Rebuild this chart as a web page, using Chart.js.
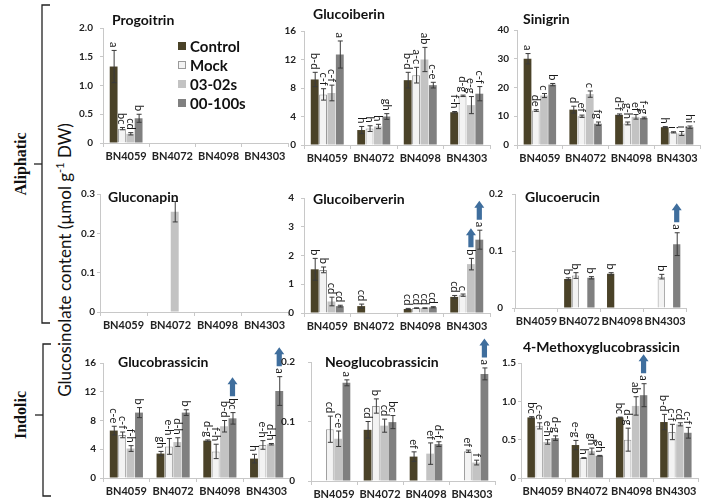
<!DOCTYPE html>
<html>
<head>
<meta charset="utf-8">
<script src="https://cdn.jsdelivr.net/npm/chart.js@4.4.1/dist/chart.umd.min.js"></script>
<style>
  html, body { margin:0; padding:0; background:#fff; }
  #wrap { position:relative; width:708px; height:502px; overflow:hidden; font-family:Lato, "Open Sans", sans-serif; }
  canvas { position:absolute; }
  .ttl { position:absolute; font:bold 14px Lato, sans-serif; color:#111; line-height:18px; white-space:nowrap; }
  .leg { position:absolute; font:bold 15px Lato, sans-serif; color:#111; line-height:18px; white-space:nowrap; }
  .legbox { position:absolute; width:8px; height:8px; box-sizing:border-box; }
  .side { position:absolute; font:bold 16px "Liberation Serif", "DejaVu Serif", serif; color:#111; white-space:nowrap; transform:translate(-50%,-50%) rotate(-90deg); }
  #ytitle { position:absolute; left:64px; top:260px; font:17px Lato, sans-serif; color:#111; white-space:nowrap; transform:translate(-50%,-50%) rotate(-90deg); }
  svg { position:absolute; left:0; top:0; }
</style>
</head>
<body>
<div id="wrap">
  <svg width="708" height="502">
    <g stroke="#222" stroke-width="1.3" fill="none">
      <polyline points="50,5 42,5 42,323 50,323"/>
      <line x1="42" y1="164" x2="34" y2="164"/>
      <polyline points="51,344 43,344 43,496 51,496"/>
      <line x1="43" y1="415" x2="35" y2="415"/>
    </g>
  </svg>
  <div class="side" style="left:21px;top:164px;">Aliphatic</div>
  <div class="side" style="left:21px;top:415px;">Indolic</div>
  <div id="ytitle">Glucosinolate content (µmol g<sup style="font-size:11px">-1</sup> DW)</div>
</div>
<script>
// ---------- data ----------
const categories = ['BN4059', 'BN4072', 'BN4098', 'BN4303'];
const treatments = ['Control', 'Mock', '03-02s', '00-100s'];

// rows = treatments (Control, Mock, 03-02s, 00-100s), columns = categories
const progoitrinMean = [[1.33, null, null, null], [0.25, null, null, null], [0.16, null, null, null], [0.43, null, null, null]];
const progoitrinErr  = [[0.28, null, null, null], [0.02, null, null, null], [0.02, null, null, null], [0.07, null, null, null]];
const progoitrinLetters = [['a', '', '', ''], ['bc', '', '', ''], ['cd', '', '', ''], ['b', '', '', '']];
const progoitrinArrows = [];

const glucoiberinMean = [[9.2, 2.1, 9.1, 4.6], [7.1, 2.3, 9.8, 6.9], [7.3, 2.6, 12.0, 5.6], [12.7, 4.0, 8.4, 7.2]];
const glucoiberinErr  = [[1.0, 0.5, 1.1, 0.1], [0.8, 0.4, 1.1, 0.1], [1.1, 0.3, 1.7, 1.2], [1.9, 0.4, 0.4, 1.0]];
const glucoiberinLetters = [['b-d', 'h', 'b-d', 'f-h'], ['c-f', 'h', 'a-c', 'd-g'], ['c-f', 'h', 'ab', 'e-g'], ['a', 'gh', 'c-e', 'c-f']];
const glucoiberinArrows = [];

const sinigrinMean = [[30.0, 12.3, 10.5, 6.2], [12.0, 10.0, 7.5, 4.4], [17.2, 17.7, 9.8, 4.0], [21.0, 7.4, 9.4, 6.2]];
const sinigrinErr  = [[1.8, 1.2, 0.3, 0.2], [0.3, 0.4, 0.5, 0.2], [0.7, 1.1, 0.8, 0.7], [0.4, 0.6, 0.3, 0.4]];
const sinigrinLetters = [['a', 'd', 'd-f', 'h'], ['de', 'ef', 'g-h', 'i'], ['c', 'c', 'ef', 'i'], ['b', 'fg', 'f-g', 'hi']];
const sinigrinArrows = [];

const gluconapinMean = [[null, null, null, null], [null, null, null, null], [null, 0.255, null, null], [null, null, null, null]];
const gluconapinErr  = [[null, null, null, null], [null, null, null, null], [null, 0.026, null, null], [null, null, null, null]];
const gluconapinLetters = [['', '', '', ''], ['', '', '', ''], ['', '', '', ''], ['', '', '', '']];
const gluconapinArrows = [];

const glucoiberverinMean = [[1.52, 0.24, 0.14, 0.56], [1.50, null, 0.17, 0.62], [0.40, null, 0.17, 1.70], [0.24, null, 0.20, 2.55]];
const glucoiberverinErr  = [[0.38, 0.07, 0.02, 0.05], [0.10, null, 0.01, 0.04], [0.15, null, 0.01, 0.20], [0.03, null, 0.02, 0.33]];
const glucoiberverinLetters = [['b', 'cd', 'cd', 'cd'], ['b', '', 'cd', 'c'], ['cd', '', 'cd', 'b'], ['cd', '', 'cd', 'a']];
const glucoiberverinArrows = [[2, 3], [3, 3]];

const glucoerucinMean = [[null, 0.051, 0.060, null], [null, 0.057, null, 0.055], [null, null, null, null], [null, 0.053, null, 0.112]];
const glucoerucinErr  = [[null, 0.002, 0.002, null], [null, 0.005, null, 0.004], [null, null, null, null], [null, 0.002, null, 0.020]];
const glucoerucinLetters = [['', 'b', 'b', ''], ['', 'b', '', 'b'], ['', '', '', ''], ['', 'b', '', 'a']];
const glucoerucinArrows = [[3, 3]];

const glucobrassicinMean = [[6.6, 3.4, 5.2, 2.7], [6.0, 4.4, 3.7, 4.6], [4.1, 5.0, 7.2, 4.7], [9.1, 9.1, 8.3, 12.1]];
const glucobrassicinErr  = [[0.6, 0.3, 0.1, 0.6], [0.4, 1.1, 1.0, 0.6], [0.4, 0.6, 0.8, 0.1], [0.7, 0.4, 0.8, 2.0]];
const glucobrassicinLetters = [['c-e', 'gh', 'd-g', 'h'], ['c-f', 'e-h', 'f-h', 'e-h'], ['f-h', 'd-h', 'b-d', 'd-h'], ['b', 'b', 'bc', 'a']];
const glucobrassicinArrows = [[3, 2], [3, 3]];

const neoglucobrassicinMean = [[null, 0.086, 0.041, null], [0.087, 0.126, null, 0.050], [0.071, 0.093, 0.046, 0.031], [0.165, 0.099, 0.062, 0.180]];
const neoglucobrassicinErr  = [[null, 0.014, 0.008, null], [0.022, 0.012, null, 0.002], [0.013, 0.011, 0.018, 0.004], [0.005, 0.011, 0.004, 0.010]];
const neoglucobrassicinLetters = [['', 'cd', 'ef', ''], ['cd', 'b', '', 'ef'], ['c-e', 'cd', 'ef', 'f'], ['a', 'bc', 'd-f', 'a']];
const neoglucobrassicinArrows = [[3, 3]];

const methoxyMean = [[0.79, 0.43, 0.79, 0.73], [0.68, 0.26, 0.50, 0.60], [0.47, 0.35, 0.94, 0.70], [0.52, 0.29, 1.08, 0.59]];
const methoxyErr  = [[0.01, 0.06, 0.005, 0.10], [0.04, 0.005, 0.15, 0.10], [0.03, 0.04, 0.12, 0.02], [0.03, 0.005, 0.15, 0.07]];
const methoxyLetters = [['bc', 'e-g', 'bc', 'b-d'], ['c-e', 'h', 'd-g', 'c-f'], ['e-h', 'gh', 'ab', 'cd'], ['d-g', 'gh', 'a', 'c-f']];
const methoxyArrows = [[3, 2]];

// ---------- styles ----------
const fills   = ['#4a4228', '#f3f3f3', '#c3c3c3', '#808080'];
const borders = ['#4a4228', '#9a9a9a', '#c3c3c3', '#808080'];
const ARROW = '#3f6e9d';

const panels = [
  {title: 'Progoitrin', mean: progoitrinMean, err: progoitrinErr, letters: progoitrinLetters, arrows: progoitrinArrows, max: 2, step: 0.5, l: 103, r: 288, t: 28, b: 143, pad: 7, tx: 112, ty: 20},
  {title: 'Glucoiberin', mean: glucoiberinMean, err: glucoiberinErr, letters: glucoiberinLetters, arrows: glucoiberinArrows, max: 16, step: 4, l: 304, r: 490, t: 31, b: 145, pad: 5, tx: 313, ty: 14},
  {title: 'Sinigrin', mean: sinigrinMean, err: sinigrinErr, letters: sinigrinLetters, arrows: sinigrinArrows, max: 40, step: 10, l: 517, r: 700, t: 30, b: 145, pad: 5, tx: 523, ty: 19},
  {title: 'Gluconapin', mean: gluconapinMean, err: gluconapinErr, letters: gluconapinLetters, arrows: gluconapinArrows, max: 0.3, step: 0.1, l: 100, r: 288, t: 194, b: 312, pad: 2, tx: 108, ty: 197},
  {title: 'Glucoiberverin', mean: glucoiberverinMean, err: glucoiberverinErr, letters: glucoiberverinLetters, arrows: glucoiberverinArrows, max: 4, step: 1, l: 304, r: 490, t: 198, b: 313, pad: 7, tx: 313, ty: 199},
  {title: 'Glucoerucin', mean: glucoerucinMean, err: glucoerucinErr, letters: glucoerucinLetters, arrows: glucoerucinArrows, max: 0.2, step: 0.1, l: 515, r: 687, t: 194, b: 308, pad: 9, tx: 525, ty: 197},
  {title: 'Glucobrassicin', mean: glucobrassicinMean, err: glucobrassicinErr, letters: glucobrassicinLetters, arrows: glucobrassicinArrows, max: 16, step: 4, l: 103, r: 290, t: 363, b: 478, pad: 4, tx: 118, ty: 362},
  {title: 'Neoglucobrassicin', mean: neoglucobrassicinMean, err: neoglucobrassicinErr, letters: neoglucobrassicinLetters, arrows: neoglucobrassicinArrows, max: 0.2, step: 0.1, l: 311, r: 495, t: 362, b: 481, pad: 13, tx: 325, ty: 362},
  {title: '4-Methoxyglucobrassicin', mean: methoxyMean, err: methoxyErr, letters: methoxyLetters, arrows: methoxyArrows, max: 1.5, step: 0.5, l: 521, r: 698, t: 363, b: 478, pad: 2, tx: 523, ty: 347}
];

const YW = 45, TOPPAD = 32, XH = 26;

function drawArrow(ctx, x, bottom) {
  const h = 19, hw = 5, sw = 2.6, hh = 7;
  ctx.beginPath();
  ctx.moveTo(x - sw, bottom);
  ctx.lineTo(x - sw, bottom - h + hh);
  ctx.lineTo(x - hw, bottom - h + hh);
  ctx.lineTo(x, bottom - h);
  ctx.lineTo(x + hw, bottom - h + hh);
  ctx.lineTo(x + sw, bottom - h + hh);
  ctx.lineTo(x + sw, bottom);
  ctx.closePath();
  ctx.fillStyle = ARROW;
  ctx.fill();
}

const annotPlugin = {
  id: 'annot',
  afterDatasetsDraw(chart) {
    const ctx = chart.ctx;
    const ys = chart.scales.y;
    const arrows = chart.options.plugins.annot.arrows || [];
    ctx.save();
    ctx.font = '11px Lato, sans-serif';
    chart.data.datasets.forEach((ds, i) => {
      const meta = chart.getDatasetMeta(i);
      ds.data.forEach((v, j) => {
        if (v == null) return;
        const bar = meta.data[j];
        const x = bar.x;
        let top = bar.y;
        const e = ds.errs[j];
        if (e) {
          const y1 = ys.getPixelForValue(v + e);
          const y2 = ys.getPixelForValue(Math.max(0, v - e));
          ctx.strokeStyle = '#3a3a3a';
          ctx.lineWidth = 1;
          ctx.beginPath();
          ctx.moveTo(x + 0.5, y1); ctx.lineTo(x + 0.5, y2);
          ctx.moveTo(x - 2, y1); ctx.lineTo(x + 3, y1);
          ctx.moveTo(x - 2, y2); ctx.lineTo(x + 3, y2);
          ctx.stroke();
          top = Math.min(top, y1);
        }
        let labTop = top - 3;
        const lab = ds.letters[j];
        if (lab) {
          ctx.save();
          ctx.translate(x, top - 3);
          ctx.rotate(Math.PI / 2);
          ctx.textAlign = 'right';
          ctx.textBaseline = 'middle';
          ctx.fillStyle = '#1a1a1a';
          ctx.fillText(lab, 0, 0);
          ctx.restore();
          labTop = top - 3 - ctx.measureText(lab).width;
        }
        if (arrows.some(a => a[0] === i && a[1] === j)) {
          drawArrow(ctx, x, labTop - 2);
        }
      });
    });
    ctx.restore();
  }
};

const wrap = document.getElementById('wrap');

panels.forEach(p => {
  const W = (p.r - p.l) + YW + 2;
  const H = (p.b - p.t) + TOPPAD + XH;
  const cv = document.createElement('canvas');
  cv.width = W; cv.height = H;
  cv.style.left = (p.l - YW) + 'px';
  cv.style.top = (p.t - TOPPAD) + 'px';
  cv.style.width = W + 'px'; cv.style.height = H + 'px';
  wrap.appendChild(cv);

  const t = document.createElement('div');
  t.className = 'ttl';
  t.textContent = p.title;
  t.style.left = p.tx + 'px';
  t.style.top = (p.ty - 9) + 'px';
  wrap.appendChild(t);

  new Chart(cv.getContext('2d'), {
    type: 'bar',
    data: {
      labels: categories,
      datasets: treatments.map((name, i) => ({
        label: name,
        data: p.mean[i],
        errs: p.err[i],
        letters: p.letters[i],
        backgroundColor: fills[i],
        borderColor: borders[i],
        borderWidth: i === 1 ? 1 : 0,
        categoryPercentage: 0.72,
        barPercentage: 0.94
      }))
    },
    options: {
      responsive: false,
      animation: false,
      devicePixelRatio: 1,
      layout: { padding: { top: TOPPAD, right: 2, left: 0, bottom: 0 } },
      plugins: {
        legend: { display: false },
        tooltip: { enabled: false },
        annot: { arrows: p.arrows }
      },
      scales: {
        x: {
          grid: { drawOnChartArea: false, color: '#c8c8c8', tickLength: 4, offset: true },
          border: { color: '#c8c8c8' },
          ticks: { font: { family: 'Lato', weight: 'bold', size: 11 }, color: '#222', padding: 3, maxRotation: 0, autoSkip: false },
          afterFit(s) { s.height = XH; }
        },
        y: {
          min: 0, max: p.max,
          ticks: { stepSize: p.step, font: { family: 'Lato', weight: 'bold', size: 10 }, color: '#222', padding: p.pad },
          grid: { drawOnChartArea: false, color: '#c8c8c8', tickLength: 3 },
          border: { color: '#c8c8c8' },
          afterFit(s) { s.width = YW; }
        }
      }
    },
    plugins: [annotPlugin]
  });
});

// legend (inside the Progoitrin panel)
const legY = [46, 65, 84, 103];
treatments.forEach((name, i) => {
  const b = document.createElement('div');
  b.className = 'legbox';
  b.style.left = '178px';
  b.style.top = (legY[i] - 4) + 'px';
  b.style.background = fills[i];
  b.style.border = '1px solid ' + borders[i];
  wrap.appendChild(b);
  const d = document.createElement('div');
  d.className = 'leg';
  d.textContent = name;
  d.style.left = '190px';
  d.style.top = (legY[i] - 9) + 'px';
  wrap.appendChild(d);
});
</script>
</body>
</html>
